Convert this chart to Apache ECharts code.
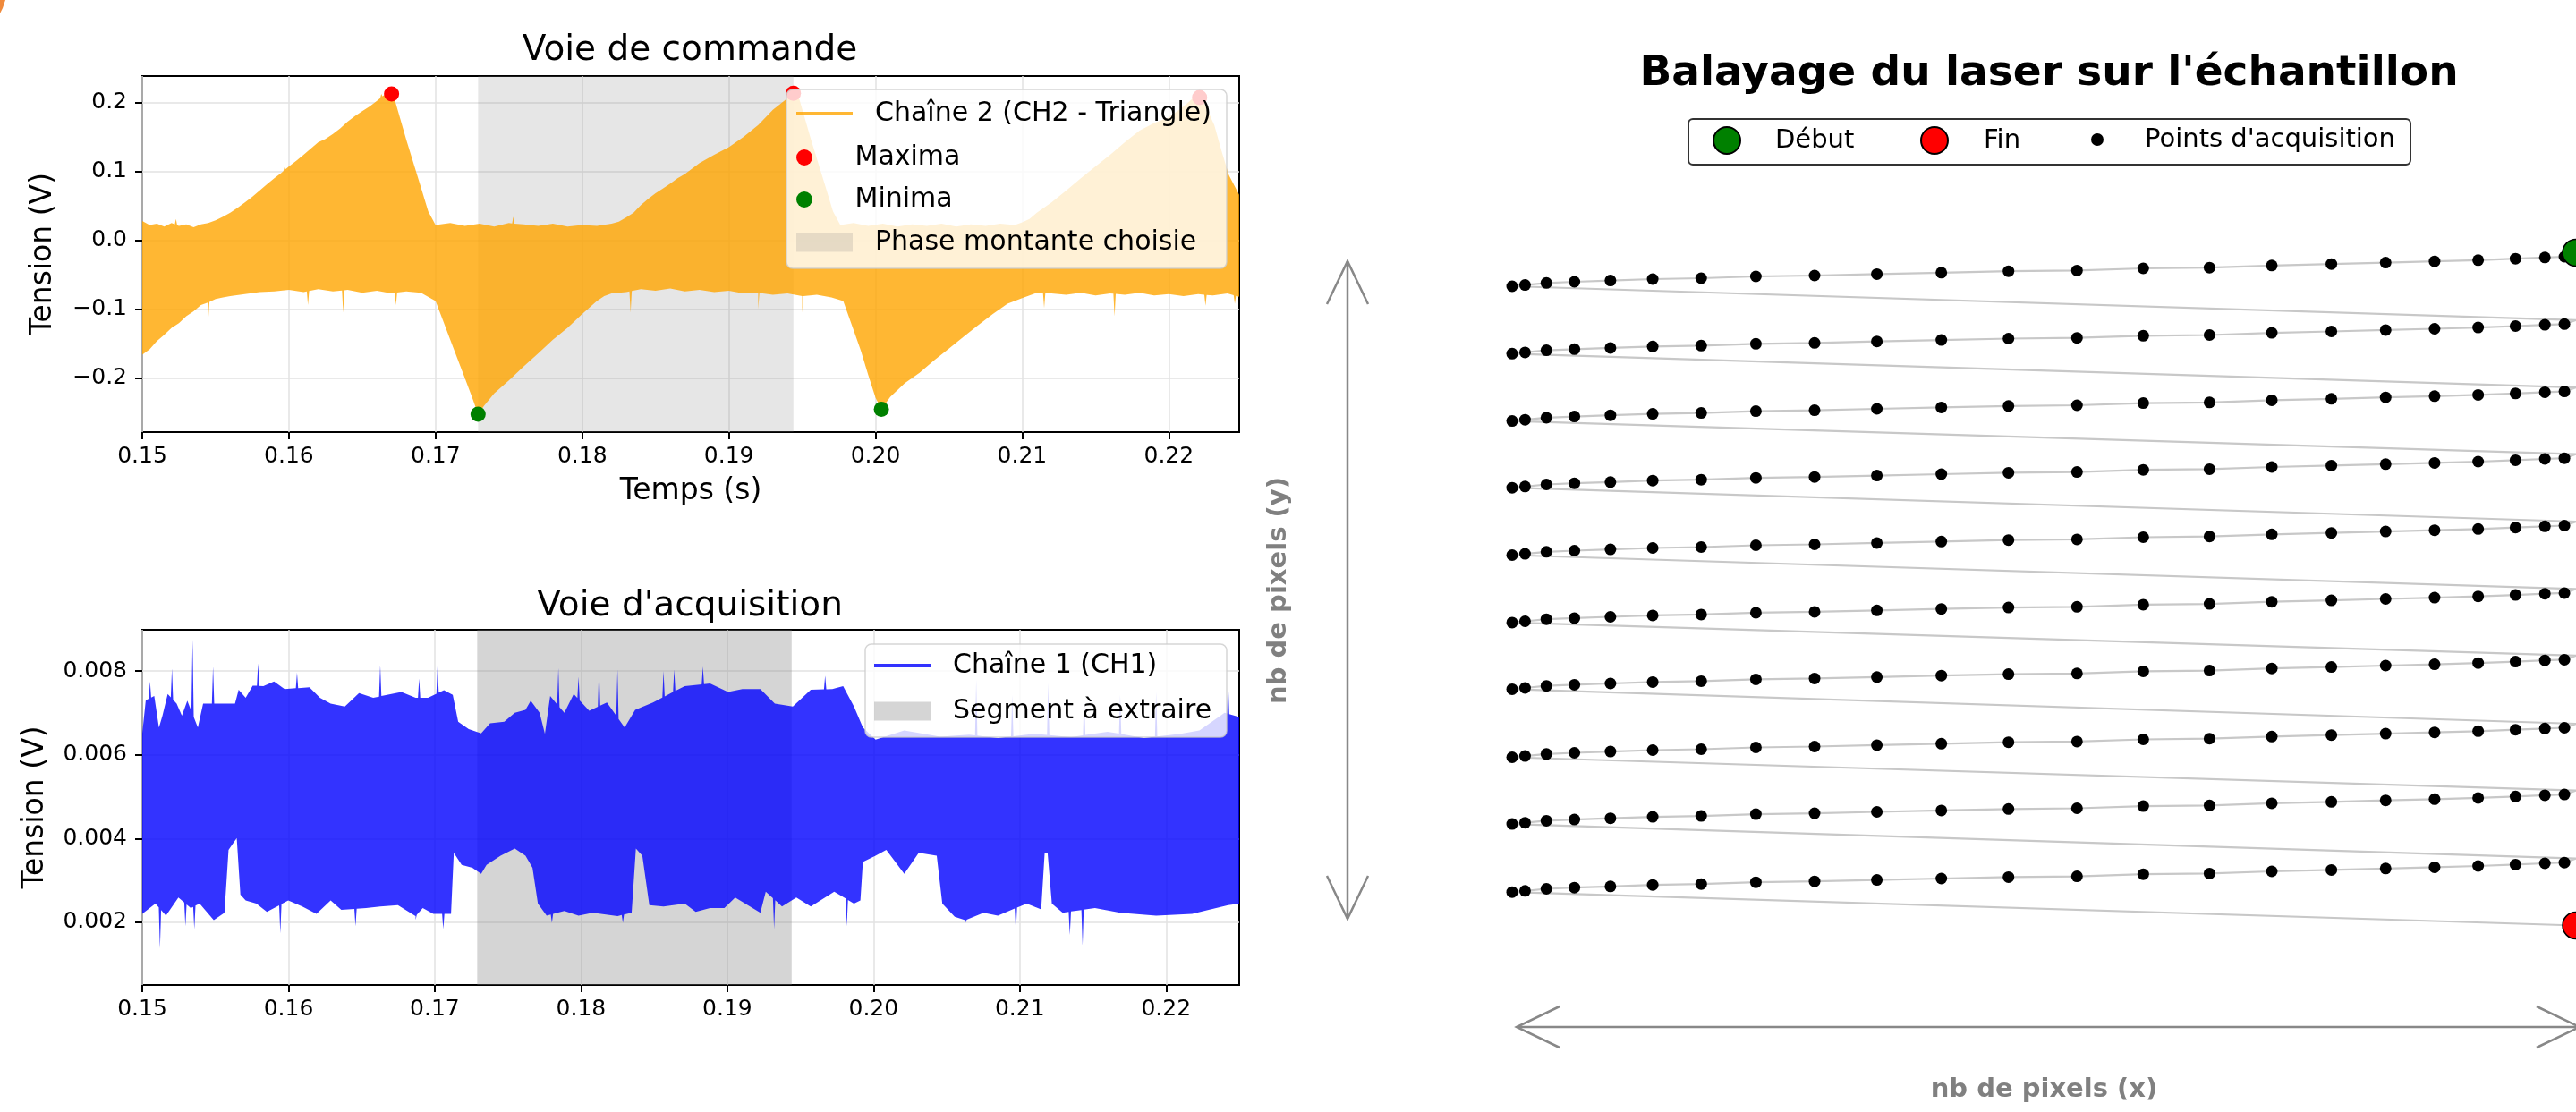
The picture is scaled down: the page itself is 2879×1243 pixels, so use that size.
<!DOCTYPE html>
<html><head><meta charset="utf-8">
<script src="https://cdn.jsdelivr.net/npm/echarts@6/dist/echarts.min.js"></script>
<style>html,body{margin:0;padding:0;background:#fff}#chart{width:2879px;height:1243px}</style>
</head><body><div id="chart"></div>
<script>
// ---------- DATA ----------
const xTicks = [0.15, 0.16, 0.17, 0.18, 0.19, 0.20, 0.21, 0.22];
const cmdYTicks = [-0.2, -0.1, 0.0, 0.1, 0.2];
const acqYTicks = [0.002, 0.004, 0.006, 0.008];

// Voie de commande (CH2) : upper / lower envelope of the dense signal [t, V]
const cmdUpper = [[0.1500,0.028],[0.1505,0.022],[0.1510,0.024],[0.1515,0.020],[0.1520,0.025],[0.1525,0.021],[0.1530,0.023],[0.1535,0.019],[0.1540,0.023],[0.1545,0.025],[0.1550,0.029],[0.1555,0.034],[0.1560,0.040],[0.1565,0.047],[0.1570,0.055],[0.1575,0.063],[0.1580,0.072],[0.1585,0.081],[0.1590,0.090],[0.1595,0.098],[0.1600,0.107],[0.1605,0.115],[0.1610,0.124],[0.1615,0.133],[0.1620,0.142],[0.1625,0.147],[0.1630,0.154],[0.1635,0.162],[0.1640,0.172],[0.1645,0.180],[0.1650,0.187],[0.1655,0.194],[0.1660,0.202],[0.1664,0.209],[0.1668,0.214],[0.1672,0.205],[0.1680,0.146],[0.1690,0.077],[0.1695,0.042],[0.1700,0.022],[0.1710,0.025],[0.1720,0.021],[0.1730,0.024],[0.1740,0.020],[0.1750,0.025],[0.1760,0.023],[0.1770,0.021],[0.1780,0.024],[0.1790,0.020],[0.1800,0.022],[0.1810,0.021],[0.1820,0.024],[0.1825,0.027],[0.1830,0.033],[0.1835,0.040],[0.1840,0.051],[0.1845,0.060],[0.1850,0.068],[0.1855,0.075],[0.1860,0.082],[0.1865,0.090],[0.1870,0.096],[0.1880,0.112],[0.1890,0.124],[0.1900,0.135],[0.1910,0.150],[0.1920,0.167],[0.1930,0.189],[0.1940,0.206],[0.1944,0.214],[0.1948,0.205],[0.1956,0.146],[0.1966,0.077],[0.1971,0.042],[0.1976,0.022],[0.1985,0.025],[0.1995,0.021],[0.2005,0.024],[0.2015,0.020],[0.2025,0.023],[0.2035,0.021],[0.2045,0.024],[0.2055,0.020],[0.2065,0.023],[0.2075,0.021],[0.2085,0.024],[0.2095,0.022],[0.2100,0.026],[0.2105,0.031],[0.2110,0.040],[0.2120,0.055],[0.2130,0.072],[0.2140,0.090],[0.2150,0.107],[0.2160,0.124],[0.2170,0.142],[0.2180,0.159],[0.2190,0.170],[0.2200,0.178],[0.2210,0.194],[0.2216,0.205],[0.2221,0.212],[0.2226,0.190],[0.2231,0.167],[0.2236,0.129],[0.2241,0.094],[0.2248,0.066]];
const cmdLower = [[0.1500,-0.166],[0.1505,-0.158],[0.1510,-0.146],[0.1515,-0.137],[0.1520,-0.127],[0.1525,-0.120],[0.1530,-0.110],[0.1535,-0.103],[0.1540,-0.094],[0.1545,-0.090],[0.1550,-0.085],[0.1555,-0.083],[0.1560,-0.081],[0.1570,-0.078],[0.1580,-0.075],[0.1590,-0.074],[0.1600,-0.072],[0.1610,-0.075],[0.1620,-0.071],[0.1630,-0.074],[0.1640,-0.072],[0.1650,-0.076],[0.1660,-0.073],[0.1670,-0.077],[0.1680,-0.074],[0.1690,-0.076],[0.1700,-0.088],[0.1705,-0.116],[0.1710,-0.144],[0.1715,-0.172],[0.1720,-0.200],[0.1725,-0.228],[0.1729,-0.252],[0.1733,-0.240],[0.1740,-0.222],[0.1750,-0.203],[0.1760,-0.183],[0.1770,-0.164],[0.1780,-0.144],[0.1790,-0.127],[0.1800,-0.107],[0.1810,-0.088],[0.1815,-0.081],[0.1820,-0.077],[0.1830,-0.075],[0.1840,-0.071],[0.1850,-0.073],[0.1860,-0.070],[0.1870,-0.074],[0.1880,-0.072],[0.1890,-0.075],[0.1900,-0.073],[0.1910,-0.077],[0.1920,-0.076],[0.1930,-0.079],[0.1940,-0.077],[0.1950,-0.081],[0.1960,-0.079],[0.1970,-0.083],[0.1978,-0.088],[0.1985,-0.130],[0.1990,-0.160],[0.1995,-0.195],[0.2000,-0.228],[0.2004,-0.245],[0.2010,-0.227],[0.2020,-0.207],[0.2030,-0.192],[0.2040,-0.174],[0.2050,-0.157],[0.2060,-0.140],[0.2070,-0.123],[0.2080,-0.107],[0.2090,-0.092],[0.2100,-0.084],[0.2110,-0.076],[0.2120,-0.077],[0.2130,-0.079],[0.2140,-0.076],[0.2150,-0.080],[0.2160,-0.077],[0.2170,-0.079],[0.2180,-0.076],[0.2190,-0.080],[0.2200,-0.078],[0.2210,-0.081],[0.2220,-0.078],[0.2230,-0.080],[0.2240,-0.077],[0.2248,-0.082]];
const cmdUpSpikes = [[0.1523,0.031],[0.1597,0.106],[0.1753,0.034],[0.1663,0.212]];
const cmdDownSpikes = [[0.1545,-0.116],[0.1613,-0.094],[0.1637,-0.105],[0.1673,-0.094],[0.1833,-0.105],[0.1920,-0.100],[0.1950,-0.105],[0.2115,-0.098],[0.2163,-0.110],[0.2225,-0.095],[0.2245,-0.092]];
const maxima = [[0.1670,0.212],[0.1944,0.213],[0.2221,0.207]];
const minima = [[0.1729,-0.252],[0.2004,-0.245]];
const phaseSpan = [0.1729, 0.1944];

// Voie d'acquisition (CH1)
const acqUpper = [[0.15000,0.00651],[0.15024,0.00730],[0.15082,0.00740],[0.15114,0.00665],[0.15138,0.00693],[0.15174,0.00745],[0.15235,0.00722],[0.15271,0.00693],[0.15308,0.00729],[0.15380,0.00665],[0.15416,0.00722],[0.15525,0.00722],[0.15634,0.00722],[0.15659,0.00755],[0.15707,0.00736],[0.15755,0.00765],[0.15828,0.00764],[0.15901,0.00775],[0.15973,0.00757],[0.16143,0.00761],[0.16215,0.00736],[0.16288,0.00722],[0.16385,0.00715],[0.16482,0.00747],[0.16579,0.00736],[0.16772,0.00750],[0.16869,0.00736],[0.16954,0.00736],[0.17063,0.00754],[0.17123,0.00743],[0.17160,0.00679],[0.17232,0.00661],[0.17317,0.00651],[0.17378,0.00675],[0.17475,0.00679],[0.17547,0.00700],[0.17620,0.00707],[0.17656,0.00729],[0.17717,0.00700],[0.17753,0.00650],[0.17789,0.00740],[0.17886,0.00700],[0.17950,0.00745],[0.18056,0.00705],[0.18177,0.00725],[0.18298,0.00665],[0.18370,0.00707],[0.18492,0.00725],[0.18709,0.00764],[0.18882,0.00770],[0.19005,0.00750],[0.19103,0.00757],[0.19226,0.00757],[0.19325,0.00722],[0.19448,0.00715],[0.19571,0.00755],[0.19718,0.00757],[0.19792,0.00764],[0.19866,0.00715],[0.19927,0.00665],[0.20014,0.00636],[0.20210,0.00658],[0.20456,0.00643],[0.20653,0.00648],[0.20850,0.00640],[0.21100,0.00650],[0.21350,0.00642],[0.21600,0.00655],[0.21850,0.00640],[0.22100,0.00650],[0.22228,0.00658],[0.22400,0.00700],[0.22500,0.00690]];
const acqLower = [[0.15000,0.00220],[0.15090,0.00245],[0.15162,0.00216],[0.15247,0.00259],[0.15332,0.00234],[0.15392,0.00245],[0.15489,0.00205],[0.15562,0.00223],[0.15590,0.00373],[0.15646,0.00401],[0.15671,0.00266],[0.15707,0.00252],[0.15780,0.00245],[0.15852,0.00225],[0.15998,0.00252],[0.16094,0.00238],[0.16191,0.00220],[0.16288,0.00252],[0.16361,0.00230],[0.16530,0.00234],[0.16627,0.00238],[0.16748,0.00241],[0.16869,0.00215],[0.16918,0.00234],[0.16990,0.00220],[0.17111,0.00220],[0.17130,0.00366],[0.17184,0.00337],[0.17257,0.00330],[0.17317,0.00316],[0.17354,0.00337],[0.17450,0.00359],[0.17547,0.00376],[0.17620,0.00359],[0.17668,0.00330],[0.17705,0.00245],[0.17765,0.00216],[0.17886,0.00227],[0.17983,0.00216],[0.18080,0.00223],[0.18250,0.00215],[0.18346,0.00223],[0.18375,0.00376],[0.18419,0.00359],[0.18467,0.00241],[0.18564,0.00238],[0.18709,0.00245],[0.18784,0.00225],[0.18882,0.00234],[0.18980,0.00234],[0.19054,0.00259],[0.19226,0.00223],[0.19263,0.00273],[0.19374,0.00238],[0.19472,0.00259],[0.19571,0.00238],[0.19731,0.00273],[0.19866,0.00245],[0.19910,0.00252],[0.19927,0.00344],[0.20014,0.00359],[0.20087,0.00373],[0.20210,0.00316],[0.20309,0.00366],[0.20432,0.00359],[0.20470,0.00245],[0.20555,0.00213],[0.20629,0.00205],[0.20752,0.00223],[0.20850,0.00216],[0.21047,0.00245],[0.21146,0.00231],[0.21170,0.00366],[0.21190,0.00366],[0.21219,0.00245],[0.21293,0.00223],[0.21514,0.00234],[0.21686,0.00223],[0.21932,0.00216],[0.22178,0.00220],[0.22424,0.00241],[0.22500,0.00245]];
const acqUpSpikes = [[0.15053,0.00775],[0.15203,0.00806],[0.15344,0.00875],[0.15484,0.00811],[0.15792,0.00818],[0.16058,0.00796],[0.16627,0.00814],[0.16893,0.00782],[0.17019,0.00814],[0.17845,0.00807],[0.17983,0.00786],[0.18123,0.00811],[0.18249,0.00804],[0.18564,0.00800],[0.18637,0.00804],[0.18833,0.00811],[0.19669,0.00789],[0.20702,0.00779],[0.20948,0.00743],[0.21194,0.00772],[0.21440,0.00750],[0.21686,0.00743],[0.21932,0.00750],[0.22424,0.00779]];
const acqDownSpikes = [[0.15121,0.00138],[0.15295,0.00191],[0.15356,0.00184],[0.15944,0.00174],[0.16458,0.00191],[0.16869,0.00206],[0.17058,0.00184],[0.17801,0.00199],[0.18286,0.00199],[0.19320,0.00184],[0.19817,0.00191],[0.20629,0.00199],[0.20973,0.00177],[0.21342,0.00170],[0.21429,0.00145]];
const extractSpan = [0.1729, 0.1944];

// Balayage du laser : column x positions (pixels), per-column drift in y, row y positions
const colX = [0, 14.5, 38.5, 70, 110.5, 158, 212.5, 274, 340, 410, 482.5, 558, 635, 709.5, 784, 854, 921, 982, 1037, 1086, 1128, 1161, 1183];
const colDY = [0, -1.4, -3.7, -5, -6.4, -8, -9, -11, -12, -13.6, -15.2, -16.8, -17.6, -20, -20.8, -23.2, -24.8, -26.4, -27.8, -29.2, -30.8, -32.2, -33];
const rowY = [0, 75.3, 150.6, 225.2, 300.5, 375.9, 450.4, 526.5, 601.1, 677.2];
const rowStartX = 1196;
const rowStartDY = -37.5;
const scanEnd = [1196, 714.5];

// ---------- BUILD ----------
const FONT = 'DejaVu Sans';
function interp(edge, t) {
  if (t <= edge[0][0]) return edge[0][1];
  for (let i = 1; i < edge.length; i++) {
    if (t <= edge[i][0]) {
      const a = edge[i - 1], b = edge[i];
      return a[1] + (b[1] - a[1]) * (t - a[0]) / (b[0] - a[0]);
    }
  }
  return edge[edge.length - 1][1];
}
function withSpikes(edge, spikes, w) {
  const pts = edge.slice();
  spikes.forEach(s => {
    pts.push([s[0] - w, interp(edge, s[0] - w)], [s[0], s[1]], [s[0] + w, interp(edge, s[0] + w)]);
  });
  return pts.sort((a, b) => a[0] - b[0]);
}
const cmdTop = withSpikes(cmdUpper, cmdUpSpikes, 0.00008);
const cmdBot = withSpikes(cmdLower, cmdDownSpikes, 0.00008);
const acqTop = withSpikes(acqUpper, acqUpSpikes, 0.00008);
const acqBot = withSpikes(acqLower, acqDownSpikes, 0.00008);

function bandItem(upper, lower, fill) {
  return function (params, api) {
    if (params.dataIndex !== 0) return null;
    const pts = upper.map(p => api.coord(p)).concat(lower.slice().reverse().map(p => api.coord(p)));
    return { type: 'polygon', shape: { points: pts }, style: { fill: fill } };
  };
}
function spanItem(fill) {
  return function (params, api) {
    const x0 = api.coord([api.value(0), 0])[0];
    const x1 = api.coord([api.value(1), 0])[0];
    const cs = params.coordSys;
    return { type: 'rect', shape: { x: x0, y: cs.y, width: x1 - x0, height: cs.height }, style: { fill: fill } };
  };
}

const scanPath = [];
const acqPoints = [];
rowY.forEach(y0 => {
  scanPath.push([rowStartX, y0 + rowStartDY]);
  for (let k = colX.length - 1; k >= 0; k--) {
    scanPath.push([colX[k], y0 + colDY[k]]);
    acqPoints.push([colX[k], y0 + colDY[k]]);
  }
});
scanPath.push(scanEnd);
const scanStart = [rowStartX, rowY[0] + rowStartDY];

const tickStyle = { show: true, length: 8, lineStyle: { color: '#000', width: 2 } };
const gridLine = { show: true, lineStyle: { color: '#e2e2e2', width: 1.5 } };
const fmtX = v => v.toFixed(2);
const fmtCmd = v => (v < -1e-9 ? '\u2212' : '') + Math.abs(v).toFixed(1);
const fmtAcq = v => v.toFixed(3);

function xAx(grid, max, name) {
  return {
    type: 'value', gridIndex: grid, min: 0.15, max: max, interval: 0.01,
    name: name, nameLocation: 'middle', nameGap: 50,
    nameTextStyle: { fontFamily: FONT, fontSize: 33, color: '#000' },
    axisLine: { show: false, onZero: false },
    axisTick: Object.assign({ customValues: xTicks }, tickStyle),
    axisLabel: { customValues: xTicks, formatter: fmtX, fontFamily: FONT, fontSize: 25, color: '#000', margin: 15 },
    splitLine: gridLine
  };
}
function yAx(grid, min, max, ticks, fmt, gap) {
  return {
    type: 'value', gridIndex: grid, min: min, max: max,
    name: 'Tension (V)', nameLocation: 'middle', nameGap: gap,
    nameTextStyle: { fontFamily: FONT, fontSize: 33, color: '#000' },
    axisLine: { show: false, onZero: false },
    axisTick: Object.assign({ customValues: ticks }, tickStyle),
    axisLabel: { customValues: ticks, formatter: fmt, fontFamily: FONT, fontSize: 25, color: '#000', margin: 17 },
    splitLine: gridLine
  };
}
function leg(items, left, top, w, h, padLeft, fs) {
  return {
    data: items, left: left, top: top, orient: 'vertical', itemWidth: w, itemHeight: h, itemGap: 17,
    padding: 0, selectedMode: false, z: 10,
    textStyle: { fontFamily: FONT, fontSize: fs, color: '#000', lineHeight: 30, padding: [0, 0, 0, padLeft] }
  };
}

const chart = echarts.init(document.getElementById('chart'), null, { renderer: 'canvas' });
chart.setOption({
  animation: false,
  backgroundColor: '#ffffff',
  title: [
    { text: 'Voie de commande', left: 771, top: 37, textAlign: 'center', padding: 0,
      textStyle: { fontFamily: FONT, fontSize: 39, fontWeight: 'normal', color: '#000' } },
    { text: "Voie d'acquisition", left: 771, top: 658, textAlign: 'center', padding: 0,
      textStyle: { fontFamily: FONT, fontSize: 39, fontWeight: 'normal', color: '#000' } },
    { text: "Balayage du laser sur l'échantillon", left: 2290, top: 59, textAlign: 'center', padding: 0,
      textStyle: { fontFamily: FONT, fontSize: 47, fontWeight: 'bold', color: '#000' } }
  ],
  grid: [
    { left: 159, top: 85, width: 1226, height: 398, show: true, borderColor: '#000', borderWidth: 2, backgroundColor: 'transparent' },
    { left: 159, top: 704, width: 1226, height: 397, show: true, borderColor: '#000', borderWidth: 2, backgroundColor: 'transparent' },
    { left: 1690, top: 260, width: 1196, height: 800, show: false }
  ],
  xAxis: [
    xAx(0, 0.2248, 'Temps (s)'),
    xAx(1, 0.225, ''),
    { type: 'value', gridIndex: 2, min: 0, max: 1196, name: 'nb de pixels (x)', nameLocation: 'middle', nameGap: 144,
      nameTextStyle: { fontFamily: FONT, fontSize: 29, fontWeight: 'bold', color: '#808080' },
      axisLine: { show: false }, axisTick: { show: false }, axisLabel: { show: false }, splitLine: { show: false } }
  ],
  yAxis: [
    yAx(0, -0.278, 0.238, cmdYTicks, fmtCmd, 94),
    yAx(1, 0.000504, 0.008983, acqYTicks, fmtAcq, 103),
    { type: 'value', gridIndex: 2, min: -60, max: 740, inverse: true, name: 'nb de pixels (y)', nameLocation: 'middle', nameGap: 246,
      nameTextStyle: { fontFamily: FONT, fontSize: 29, fontWeight: 'bold', color: '#808080' },
      axisLine: { show: false }, axisTick: { show: false }, axisLabel: { show: false }, splitLine: { show: false } }
  ],
  legend: [
    leg([{ name: 'Chaîne 2 (CH2 - Triangle)', icon: 'rect' }], 890, 112, 63, 4, 20, 30),
    leg([{ name: 'Maxima', icon: 'circle' }, { name: 'Minima', icon: 'circle' }], 890, 161, 63, 18, 20, 30),
    leg([{ name: 'Phase montante choisie', icon: 'rect' }], 890, 256, 63, 21, 20, 30),
    leg([{ name: 'Chaîne 1 (CH1)', icon: 'rect' }], 977, 729, 64, 4, 19, 30),
    leg([{ name: 'Segment à extraire', icon: 'rect' }], 977, 780, 64, 21, 19, 30),
    leg([{ name: 'Début', icon: 'circle' }], 1914, 141, 30, 30, 34, 29),
    leg([{ name: 'Fin', icon: 'circle' }], 2146, 141, 30, 30, 35, 29),
    leg([{ name: "Points d'acquisition", icon: 'circle' }], 2337, 141, 14, 14, 41, 29)
  ],
  graphic: { elements: [
    { type: 'rect', z: 5, silent: true, shape: { x: 879, y: 100, width: 492, height: 200, r: 7 },
      style: { fill: 'rgba(255,255,255,0.8)', stroke: 'rgba(204,204,204,0.8)', lineWidth: 1.5 } },
    { type: 'rect', z: 5, silent: true, shape: { x: 967, y: 720, width: 404, height: 104, r: 7 },
      style: { fill: 'rgba(255,255,255,0.8)', stroke: 'rgba(204,204,204,0.8)', lineWidth: 1.5 } },
    { type: 'rect', z: 5, silent: true, shape: { x: 1887, y: 133, width: 807, height: 51, r: 5 },
      style: { fill: '#ffffff', stroke: '#333333', lineWidth: 2 } },
    { type: 'polyline', silent: true, shape: { points: [[1506, 292], [1506, 1027]] }, style: { stroke: '#888888', lineWidth: 2.5, fill: null } },
    { type: 'polyline', silent: true, shape: { points: [[1483, 340], [1506, 292], [1529, 340]] }, style: { stroke: '#888888', lineWidth: 2.5, fill: null } },
    { type: 'polyline', silent: true, shape: { points: [[1483, 979], [1506, 1027], [1529, 979]] }, style: { stroke: '#888888', lineWidth: 2.5, fill: null } },
    { type: 'polyline', silent: true, shape: { points: [[1695, 1148], [2883, 1148]] }, style: { stroke: '#888888', lineWidth: 2.5, fill: null } },
    { type: 'polyline', silent: true, shape: { points: [[1743, 1125], [1695, 1148], [1743, 1171]] }, style: { stroke: '#888888', lineWidth: 2.5, fill: null } },
    { type: 'polyline', silent: true, shape: { points: [[2835, 1125], [2883, 1148], [2835, 1171]] }, style: { stroke: '#888888', lineWidth: 2.5, fill: null } },
    { type: 'polygon', silent: true, shape: { points: [[0, 0], [6, 0], [3, 9], [0, 15]] }, style: { fill: '#F08A3C' } }
  ] },
  series: [
    { type: 'custom', name: 'Phase montante choisie', xAxisIndex: 0, yAxisIndex: 0, z: 1, silent: true,
      itemStyle: { color: 'rgba(128,128,128,0.2)' }, renderItem: spanItem('rgba(128,128,128,0.2)'), data: [phaseSpan] },
    { type: 'custom', name: 'Chaîne 2 (CH2 - Triangle)', xAxisIndex: 0, yAxisIndex: 0, z: 2, silent: true, clip: true,
      itemStyle: { color: 'rgba(255,165,0,0.8)' }, renderItem: bandItem(cmdTop, cmdBot, 'rgba(255,165,0,0.8)'), data: [cmdTop[0]] },
    { type: 'scatter', name: 'Maxima', xAxisIndex: 0, yAxisIndex: 0, z: 3, silent: true, symbolSize: 17,
      itemStyle: { color: '#ff0000', opacity: 1 }, data: maxima },
    { type: 'scatter', name: 'Minima', xAxisIndex: 0, yAxisIndex: 0, z: 3, silent: true, symbolSize: 17,
      itemStyle: { color: '#008000', opacity: 1 }, data: minima },
    { type: 'custom', name: 'Segment à extraire', xAxisIndex: 1, yAxisIndex: 1, z: 1, silent: true,
      itemStyle: { color: 'rgba(128,128,128,0.33)' }, renderItem: spanItem('rgba(128,128,128,0.33)'), data: [extractSpan] },
    { type: 'custom', name: 'Chaîne 1 (CH1)', xAxisIndex: 1, yAxisIndex: 1, z: 2, silent: true, clip: true,
      itemStyle: { color: 'rgba(0,0,255,0.8)' }, renderItem: bandItem(acqTop, acqBot, 'rgba(0,0,255,0.8)'), data: [acqTop[0]] },
    { type: 'line', name: 'Trajet', xAxisIndex: 2, yAxisIndex: 2, z: 2, silent: true, showSymbol: false, clip: false,
      lineStyle: { color: '#c8c8c8', width: 2.2 }, data: scanPath },
    { type: 'scatter', name: "Points d'acquisition", xAxisIndex: 2, yAxisIndex: 2, z: 3, silent: true, symbolSize: 13, clip: false,
      itemStyle: { color: '#000000', opacity: 1 }, data: acqPoints },
    { type: 'scatter', name: 'Début', xAxisIndex: 2, yAxisIndex: 2, z: 4, silent: true, symbolSize: 30, clip: false,
      itemStyle: { color: '#008000', borderColor: '#000', borderWidth: 1.5, opacity: 1 }, data: [scanStart] },
    { type: 'scatter', name: 'Fin', xAxisIndex: 2, yAxisIndex: 2, z: 4, silent: true, symbolSize: 30, clip: false,
      itemStyle: { color: '#ff0000', borderColor: '#000', borderWidth: 1.5, opacity: 1 }, data: [scanEnd] }
  ]
});
</script></body></html>
